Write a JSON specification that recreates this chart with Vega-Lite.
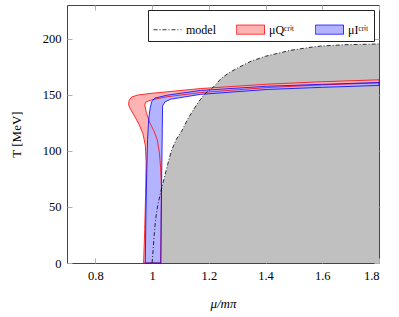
{
 "$schema": "https://vega.github.io/schema/vega-lite/v6.json",
 "width": 312, "height": 258,
 "autosize": {"type": "none"},
 "padding": {"left": 67, "top": 5, "right": 20, "bottom": 54},
 "config": {
  "view": {"stroke": "#444", "strokeWidth": 1},
  "font": "Liberation Serif",
  "axis": {"grid": false, "domain": false, "tickColor": "#b0b0b0", "tickSize": -5, "labelPadding": 11,
   "labelFont": "Liberation Serif", "labelFontSize": 12.5, "labelColor": "black",
   "titleFont": "Liberation Serif", "titleFontSize": 13, "titleFontWeight": "normal", "titleColor": "black"}
 },
 "data": {"values": [
  {"s":"model","i":1,"mu":1.000,"T":0},
  {"s":"model","i":2,"mu":1.004,"T":13},
  {"s":"model","i":3,"mu":1.008,"T":27},
  {"s":"model","i":4,"mu":1.013,"T":40},
  {"s":"model","i":5,"mu":1.019,"T":50},
  {"s":"model","i":6,"mu":1.030,"T":63},
  {"s":"model","i":7,"mu":1.041,"T":74},
  {"s":"model","i":8,"mu":1.055,"T":88},
  {"s":"model","i":9,"mu":1.068,"T":100},
  {"s":"model","i":10,"mu":1.085,"T":110},
  {"s":"model","i":11,"mu":1.106,"T":118.4},
  {"s":"model","i":12,"mu":1.125,"T":128},
  {"s":"model","i":13,"mu":1.145,"T":136.3},
  {"s":"model","i":14,"mu":1.165,"T":144},
  {"s":"model","i":15,"mu":1.185,"T":150.5},
  {"s":"model","i":16,"mu":1.217,"T":157},
  {"s":"model","i":17,"mu":1.245,"T":165},
  {"s":"model","i":18,"mu":1.276,"T":170.3},
  {"s":"model","i":19,"mu":1.310,"T":175},
  {"s":"model","i":20,"mu":1.350,"T":180},
  {"s":"model","i":21,"mu":1.400,"T":184.3},
  {"s":"model","i":22,"mu":1.488,"T":189.6},
  {"s":"model","i":23,"mu":1.550,"T":192},
  {"s":"model","i":24,"mu":1.594,"T":193.4},
  {"s":"model","i":25,"mu":1.680,"T":194.6},
  {"s":"model","i":26,"mu":1.771,"T":195.1},
  {"s":"model","i":27,"mu":1.800,"T":195.3},

  {"s":"Q","i":1,"mu":0.970,"T":0},
  {"s":"Q","i":2,"mu":0.974,"T":30},
  {"s":"Q","i":3,"mu":0.977,"T":60},
  {"s":"Q","i":4,"mu":0.979,"T":90},
  {"s":"Q","i":5,"mu":0.976,"T":105},
  {"s":"Q","i":6,"mu":0.968,"T":115},
  {"s":"Q","i":7,"mu":0.955,"T":123},
  {"s":"Q","i":8,"mu":0.938,"T":131},
  {"s":"Q","i":9,"mu":0.924,"T":137},
  {"s":"Q","i":10,"mu":0.917,"T":141},
  {"s":"Q","i":11,"mu":0.919,"T":145},
  {"s":"Q","i":12,"mu":0.928,"T":148},
  {"s":"Q","i":13,"mu":0.950,"T":149.8},
  {"s":"Q","i":14,"mu":1.000,"T":151.3},
  {"s":"Q","i":15,"mu":1.053,"T":152.6},
  {"s":"Q","i":16,"mu":1.170,"T":155.5},
  {"s":"Q","i":17,"mu":1.406,"T":159.4},
  {"s":"Q","i":18,"mu":1.600,"T":161.6},
  {"s":"Q","i":19,"mu":1.800,"T":163.3},
  {"s":"Q","i":20,"mu":1.800,"T":160.6},
  {"s":"Q","i":21,"mu":1.600,"T":158.8},
  {"s":"Q","i":22,"mu":1.406,"T":156.4},
  {"s":"Q","i":23,"mu":1.170,"T":151.9},
  {"s":"Q","i":24,"mu":1.053,"T":148.2},
  {"s":"Q","i":25,"mu":1.000,"T":145.6},
  {"s":"Q","i":26,"mu":0.978,"T":143.5},
  {"s":"Q","i":27,"mu":0.974,"T":141},
  {"s":"Q","i":28,"mu":0.980,"T":134},
  {"s":"Q","i":29,"mu":0.992,"T":125},
  {"s":"Q","i":30,"mu":1.006,"T":118},
  {"s":"Q","i":31,"mu":1.018,"T":110},
  {"s":"Q","i":32,"mu":1.026,"T":98},
  {"s":"Q","i":33,"mu":1.030,"T":85},
  {"s":"Q","i":34,"mu":1.033,"T":68},
  {"s":"Q","i":35,"mu":1.032,"T":35},
  {"s":"Q","i":36,"mu":1.030,"T":0},
  {"s":"Q","i":37,"mu":0.970,"T":0},

  {"s":"I","i":1,"mu":0.976,"T":0},
  {"s":"I","i":2,"mu":0.978,"T":40},
  {"s":"I","i":3,"mu":0.981,"T":80},
  {"s":"I","i":4,"mu":0.984,"T":110},
  {"s":"I","i":5,"mu":0.988,"T":128},
  {"s":"I","i":6,"mu":0.993,"T":138},
  {"s":"I","i":7,"mu":0.999,"T":144},
  {"s":"I","i":8,"mu":1.010,"T":147},
  {"s":"I","i":9,"mu":1.053,"T":149.6},
  {"s":"I","i":10,"mu":1.170,"T":153.8},
  {"s":"I","i":11,"mu":1.406,"T":157.6},
  {"s":"I","i":12,"mu":1.600,"T":159.3},
  {"s":"I","i":13,"mu":1.800,"T":160.9},
  {"s":"I","i":14,"mu":1.800,"T":158.3},
  {"s":"I","i":15,"mu":1.600,"T":156.6},
  {"s":"I","i":16,"mu":1.406,"T":154.7},
  {"s":"I","i":17,"mu":1.170,"T":150.3},
  {"s":"I","i":18,"mu":1.065,"T":146},
  {"s":"I","i":19,"mu":1.045,"T":143.5},
  {"s":"I","i":20,"mu":1.037,"T":140},
  {"s":"I","i":21,"mu":1.036,"T":120},
  {"s":"I","i":22,"mu":1.034,"T":80},
  {"s":"I","i":23,"mu":1.032,"T":40},
  {"s":"I","i":24,"mu":1.031,"T":0},
  {"s":"I","i":25,"mu":0.976,"T":0}
 ]},
 "encoding": {
  "x": {"field": "mu", "type": "quantitative", "scale": {"domain": [0.7, 1.8], "nice": false, "zero": false}, "axis": null},
  "y": {"field": "T", "type": "quantitative", "scale": {"domain": [0, 230], "nice": false}, "axis": null}
 },
 "resolve": {"axis": {"x": "independent", "y": "independent"}},
 "layer": [
  {"transform": [{"filter": "datum.s == 'model'"}],
   "mark": {"type": "area", "orient": "horizontal", "color": "#c0c0c0"},
   "encoding": {
    "x": {"field": "mu", "type": "quantitative",
     "axis": {"orient": "bottom", "values": [0.8, 1, 1.2, 1.4, 1.6, 1.8], "format": "~g", "title": "μ/mπ", "titleFontStyle": "italic", "titlePadding": 16}},
    "y": {"field": "T", "type": "quantitative",
     "axis": {"orient": "left", "values": [0, 50, 100, 150, 200], "title": "T [MeV]", "titlePadding": 19}},
    "x2": {"datum": 1.8}}},
  {"transform": [{"filter": "datum.s == 'Q'"}],
   "mark": {"type": "line", "fill": "#ffb3b3", "strokeOpacity": 0},
   "encoding": {"order": {"field": "i", "type": "quantitative"}}},
  {"transform": [{"filter": "datum.s == 'I'"}],
   "mark": {"type": "line", "fill": "#b3b3ff", "strokeOpacity": 0},
   "encoding": {"order": {"field": "i", "type": "quantitative"}}},
  {"transform": [{"filter": "datum.s != 'model'"}],
   "mark": {"type": "line", "strokeWidth": 0.8},
   "encoding": {"order": {"field": "i", "type": "quantitative"},
    "color": {"field": "s", "type": "nominal", "scale": {"domain": ["model", "Q", "I"], "range": ["black", "#ff0000", "#0000ff"]}}}},
  {"transform": [{"filter": "datum.s == 'model'"}],
   "mark": {"type": "line", "strokeWidth": 0.8, "strokeDash": [4, 2, 1, 2]},
   "encoding": {"order": {"field": "i", "type": "quantitative"},
    "x": {"field": "mu", "type": "quantitative",
     "axis": {"orient": "top", "values": [0.8, 1, 1.2, 1.4, 1.6, 1.8], "labels": false, "title": null}},
    "y": {"field": "T", "type": "quantitative",
     "axis": {"orient": "right", "values": [0, 50, 100, 150, 200], "labels": false, "title": null}},
    "color": {"field": "s", "type": "nominal", "scale": {"domain": ["model", "Q", "I"], "range": ["black", "#ff0000", "#0000ff"]},
     "legend": {"title": null, "orient": "none", "legendX": 81, "legendY": 5, "direction": "horizontal",
      "strokeColor": "#222", "fillColor": "white", "padding": 5, "symbolSize": 784, "symbolStrokeWidth": 0.8,
      "labelFont": "Liberation Serif", "labelFontSize": 12, "labelColor": "black", "columnPadding": 18, "labelOffset": 4,
      "labelExpr": "datum.value == 'Q' ? 'μQᶜʳⁱᵗ' : datum.value == 'I' ? 'μIᶜʳⁱᵗ' : 'model'",
      "encode": {"symbols": {"update": {
       "shape": {"signal": "datum.value == 'model' ? 'M-1,0H1' : 'M-1,-0.33H1V0.33H-1Z'"},
       "fill": {"signal": "datum.value == 'Q' ? '#ffb3b3' : datum.value == 'I' ? '#b3b3ff' : 'transparent'"},
       "stroke": {"signal": "datum.value == 'model' ? 'black' : '#555'"},
       "strokeDash": {"signal": "datum.value == 'model' ? [4, 2, 1, 2] : [1, 0]"}
      }}}}}}}
 ]
}
